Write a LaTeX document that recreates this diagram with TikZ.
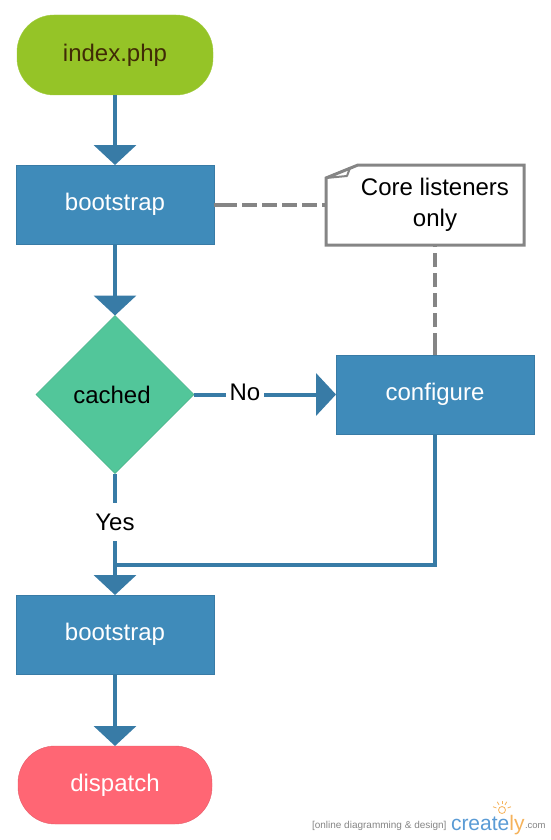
\documentclass[tikz,border=0pt]{standalone}
\usepackage{fontspec}
\setmainfont{Liberation Sans}
\usetikzlibrary{shapes,arrows.meta,positioning,calc}
\definecolor{boxblue}{HTML}{3F8BBA}
\definecolor{lineblue}{HTML}{387BA6}
\definecolor{startgreen}{HTML}{95C427}
\definecolor{startink}{HTML}{402A06}
\definecolor{cachedgreen}{HTML}{52C69A}
\definecolor{endred}{HTML}{FF6674}
\definecolor{notegray}{HTML}{858585}
\definecolor{brandblue}{HTML}{5A9BD5}
\definecolor{brandorange}{HTML}{F5B25A}
\begin{document}
\begin{tikzpicture}[x=1pt,y=-1pt,every node/.style = {align=center, font=\fontsize{24}{31}\selectfont, inner sep=0pt, outer sep=0pt},
terminal/.style = {rounded corners=37pt, minimum height=80pt},
stepbox/.style = {fill=boxblue, draw=lineblue, line width=0.5pt, minimum width=198pt, minimum height=79pt, text=white},
flow/.style = {draw=lineblue, line width=4pt},
flowtip/.style = {flow, -{Triangle[length=20pt,width=42pt]}},
link/.style = {draw=notegray, line width=4pt, dash pattern=on 22.5pt off 5.5pt on 14.5pt off 5.5pt on 14.5pt off 5.5pt on 14.5pt off 5.5pt on 14.5pt off 5.5pt on 14.5pt off 5.5pt},
answer/.style = {fill=white, inner xsep=4pt, inner ysep=11pt},
credit/.style = {font=\fontsize{10}{12}\selectfont, text=notegray}]
\useasboundingbox (0,0) rectangle (550,840);
\node[terminal, fill=startgreen, draw=startgreen!90!white, minimum width=196pt, text=startink] (start) at (115,55) {\raisebox{2pt}{index.php}};
\node[stepbox, below=70pt of start] (bootone) {bootstrap};
\node[diamond, fill=cachedgreen, draw=cachedgreen!90!black, line width=0.5pt, minimum width=158pt, minimum height=158pt, below=71.5pt of bootone] (cached) {\hspace*{-6pt}cached};
\node[stepbox, right=142pt of cached] (configure) {configure};
\node[stepbox, below=121.5pt of cached] (boottwo) {bootstrap};
\node[terminal, fill=endred, draw=endred!90!black, minimum width=194pt, minimum height=78pt, text=white, below=72pt of boottwo] (dispatch) {\raisebox{2pt}{dispatch}};
\node[minimum width=198pt, minimum height=80pt] (note) at (425,205) {\hspace*{20pt}\raisebox{-1pt}{Core listeners}\\\hspace*{20pt}\raisebox{-1pt}{only}};
\coordinate (join) at (115,565);
% flow
\draw[flowtip] (start) -- (bootone);
\draw[flowtip] (bootone) -- (cached);
\draw[flowtip] (cached) -- (configure);
\draw[flowtip] (cached) -- (boottwo);
\draw[flowtip] (boottwo) -- (dispatch);
\draw[flow, line join=miter] (configure.south) |- (join);
\node[answer] (no) at (245,392) {No};
\node[answer] (yes) at (115,522) {Yes};
% note
\draw[link] (bootone.east |- note.west) -- (note.west);
\draw[link] (configure) -- (note.south -| configure);
\draw[draw=notegray, line width=3pt] ($(note.north west)+(0,13)$) -- ($(note.north west)+(32,0)$) -- (note.north east) -- (note.south east) -- (note.south west) -- cycle;
\draw[draw=notegray, line width=2pt, line join=round] ($(note.north west)+(0,13)$) -- ($(note.north west)+(24,3)$) -- ($(note.north west)+(21,11)$) -- cycle;
% watermark
\node[credit, anchor=base west] (online) at (312,828) {[online diagramming \& design]};
\node[anchor=base west, font=\fontsize{21}{24}\selectfont, text=brandblue] (brand) at (451,830) {create\textcolor{brandorange}{ly}};
\node[credit, anchor=base west, font=\fontsize{9.5}{11}\selectfont] (dotcom) at (525,828) {.com};
\draw[brandorange, line width=0.8pt] (502,810) circle (3.5pt);
\foreach \a in {20,60,90,120,160}
\draw[brandorange, line width=0.8pt] ($(502,810)+(\a:6pt)$) -- ($(502,810)+(\a:9.5pt)$);
\end{tikzpicture}
\end{document}
